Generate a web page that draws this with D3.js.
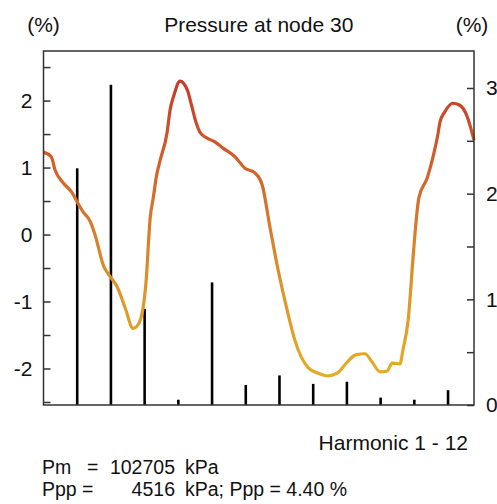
<!DOCTYPE html>
<html>
<head>
<meta charset="utf-8">
<script src="https://cdn.jsdelivr.net/npm/d3@7"></script>
<style>
  body { margin: 0; background: #fff; }
  svg text { font-family: "Liberation Sans Narrow", "Arial Narrow", "Liberation Sans", sans-serif; fill: #111; }
</style>
</head>
<body>
<div id="chart"></div>
<script>
// pressure wave over one period (fraction of period, % of mean)
var phase = [0, 0.018, 0.027, 0.046, 0.067, 0.078, 0.092, 0.109, 0.120, 0.139, 0.155, 0.171, 0.190, 0.208, 0.222,
  0.238, 0.248, 0.255, 0.262, 0.271, 0.287, 0.294, 0.303, 0.317, 0.334, 0.345, 0.355, 0.364, 0.380, 0.399, 0.417,
  0.445, 0.468, 0.491, 0.508, 0.526, 0.545, 0.566, 0.584, 0.615, 0.638, 0.661, 0.682, 0.706, 0.724, 0.747, 0.763,
  0.782, 0.798, 0.810, 0.828, 0.835, 0.847, 0.858, 0.863, 0.872, 0.891, 0.907, 0.916, 0.921, 0.932, 0.951, 0.967,
  0.983, 1.000];
var pressure = [1.23, 1.16, 0.96, 0.77, 0.62, 0.49, 0.34, 0.19, -0.01, -0.46, -0.63, -0.78, -1.10, -1.40, -1.32,
  -0.72, 0.26, 0.55, 0.86, 1.11, 1.52, 1.86, 2.08, 2.29, 2.16, 1.90, 1.66, 1.52, 1.44, 1.38, 1.29,
  1.16, 0.99, 0.92, 0.74, 0.11, -0.53, -1.13, -1.58, -1.99, -2.07, -2.11, -2.07, -1.90, -1.80, -1.78, -1.90,
  -2.05, -2.04, -1.92, -1.93, -1.72, -1.28, -0.38, 0.02, 0.55, 0.84, 1.22, 1.49, 1.68, 1.83, 1.96, 1.93,
  1.78, 1.41];

// harmonic amplitudes (right axis, %)
var harmonics = [1, 2, 3, 4, 5, 6, 7, 8, 9, 10, 11, 12];
var amplitude = [2.24, 3.03, 0.91, 0.05, 1.16, 0.19, 0.28, 0.20, 0.22, 0.07, 0.05, 0.14];

var leftTicks = [-2, -1, 0, 1, 2];
var leftMinor = [-2.5, -1.5, -0.5, 0.5, 1.5, 2.5];
var rightTicks = [0, 1, 2, 3];
var rightMinor = [0.5, 1.5, 2.5];

var infoNames = ["Pm", "Ppp"];
var infoValues = ["102705", "4516"];
var infoUnits = ["kPa", "kPa; Ppp = 4.40 %"];

function draw(){
  var width = 497, height = 504;
  var pl = 43.5, pr = 474, pt = 51, pb = 405;
  var fs = 21;

  var svg = d3.select("#chart").append("svg")
    .attr("width", width).attr("height", height);

  var t = d3.scaleLinear().domain([0, 1]).range([pl, pr]);
  var h = d3.scaleLinear().domain([0, 12.77]).range([pl, pr]);
  var yL = d3.scaleLinear().domain([-2.545, 2.74]).range([pb, pt]);
  var yR = d3.scaleLinear().domain([0, 3.35]).range([pb, pt]);
  var plain = function(d){ return String(d); };   // keep ASCII hyphen for minus

  // colour follows the pressure value
  var color = d3.scaleLinear().domain([-2.1, -0.8, 0.5, 2.3])
    .range(["#e4ad28", "#de9329", "#d6702a", "#c73a29"]);
  var grad = svg.append("defs").append("linearGradient")
    .attr("id", "wave").attr("gradientUnits", "userSpaceOnUse")
    .attr("x1", 0).attr("x2", 0).attr("y1", yL(-2.2)).attr("y2", yL(2.35));
  d3.range(0, 11).forEach(function(i){
    var v = -2.2 + i * 4.55 / 10;
    grad.append("stop").attr("offset", i / 10).attr("stop-color", color(v));
  });

  // bars
  svg.selectAll(".bar").data(harmonics).enter().append("line")
    .attr("class", "bar")
    .attr("x1", function(d){ return h(d); })
    .attr("x2", function(d){ return h(d); })
    .attr("y1", yR(0))
    .attr("y2", function(d,i){ return yR(amplitude[i]); })
    .attr("stroke", "#000").attr("stroke-width", 2.6);

  // wave
  var line = d3.line()
    .x(function(d,i){ return t(phase[i]); })
    .y(function(d){ return yL(d); })
    .curve(d3.curveMonotoneX);
  svg.append("path").datum(pressure)
    .attr("d", line)
    .attr("fill", "none")
    .attr("stroke", "url(#wave)")
    .attr("stroke-width", 3.2)
    .attr("stroke-linejoin", "round");

  // frame
  svg.append("rect")
    .attr("x", pl).attr("y", pt)
    .attr("width", pr - pl).attr("height", pb - pt)
    .attr("fill", "none").attr("stroke", "#333").attr("stroke-width", 1.5);

  function styleAxis(g){
    g.select(".domain").remove();
    g.selectAll("line").attr("stroke", "#333").attr("stroke-width", 1.5);
    g.selectAll("text").attr("font-size", fs).attr("font-family", null).attr("fill", null);
  }

  svg.append("g").attr("transform", "translate(" + pl + ",0)")
    .call(d3.axisLeft(yL).tickValues(leftTicks).tickSize(-7).tickPadding(11).tickFormat(plain))
    .call(styleAxis);
  svg.append("g").attr("transform", "translate(" + pl + ",0)")
    .call(d3.axisLeft(yL).tickValues(leftMinor).tickSize(-7).tickFormat(""))
    .call(styleAxis);
  svg.append("g").attr("transform", "translate(" + pr + ",0)")
    .call(d3.axisRight(yR).tickValues(rightTicks).tickSize(-7).tickPadding(12).tickFormat(plain))
    .call(styleAxis);
  svg.append("g").attr("transform", "translate(" + pr + ",0)")
    .call(d3.axisRight(yR).tickValues(rightMinor).tickSize(-7).tickFormat(""))
    .call(styleAxis);

  // labels
  svg.append("text").attr("x", (pl + pr) / 2).attr("y", 32)
    .attr("text-anchor", "middle").attr("font-size", fs).text("Pressure at node 30");
  svg.append("text").attr("x", pl).attr("y", 32)
    .attr("text-anchor", "middle").attr("font-size", fs).text("(%)");
  svg.append("text").attr("x", pr - 2).attr("y", 32)
    .attr("text-anchor", "middle").attr("font-size", fs).text("(%)");
  svg.append("text").attr("x", 468).attr("y", 450)
    .attr("text-anchor", "end").attr("font-size", fs).text("Harmonic 1 - 12");

  var eqX = [87, 82];
  var rowY = [474, 496];
  var fi = 19.5;
  infoNames.forEach(function(name, i){
    var y = rowY[i];
    svg.append("text").attr("x", 42).attr("y", y).attr("font-size", fi).text(name);
    svg.append("text").attr("x", eqX[i]).attr("y", y).attr("font-size", fi).text("=");
    svg.append("text").attr("x", 175).attr("y", y).attr("font-size", fi)
      .attr("text-anchor", "end").text(infoValues[i]);
    svg.append("text").attr("x", 185).attr("y", y).attr("font-size", fi).text(infoUnits[i]);
  });
}
draw();
</script>
</body>
</html>
